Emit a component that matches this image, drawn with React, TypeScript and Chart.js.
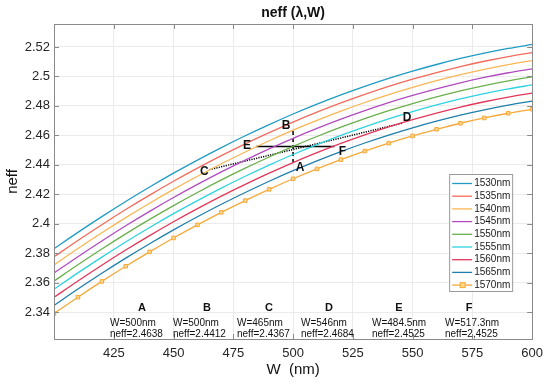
import { useEffect, useRef } from 'react';
import { Chart, registerables } from 'chart.js';

Chart.register(...registerables);

// ---- data ----
const widths = [400, 410, 420, 430, 440, 450, 460, 470, 480, 490, 500, 510, 520, 530, 540, 550, 560, 570, 580, 590, 600];
const wavelengthLabels = ['1530nm', '1535nm', '1540nm', '1545nm', '1550nm', '1555nm', '1560nm', '1565nm', '1570nm'];

const neff1530 = [2.3830, 2.3941, 2.4048, 2.4151, 2.4249, 2.4343, 2.4432, 2.4517, 2.4597, 2.4673, 2.4745, 2.4812, 2.4875, 2.4933, 2.4987, 2.5036, 2.5081, 2.5122, 2.5158, 2.5190, 2.5217];
const neff1535 = [2.3775, 2.3886, 2.3993, 2.4096, 2.4194, 2.4288, 2.4377, 2.4462, 2.4542, 2.4618, 2.4690, 2.4757, 2.4820, 2.4878, 2.4932, 2.4981, 2.5026, 2.5067, 2.5103, 2.5135, 2.5162];
const neff1540 = [2.3720, 2.3831, 2.3938, 2.4041, 2.4139, 2.4233, 2.4322, 2.4407, 2.4487, 2.4563, 2.4635, 2.4702, 2.4765, 2.4823, 2.4877, 2.4926, 2.4971, 2.5012, 2.5048, 2.5080, 2.5107];
const neff1545 = [2.3665, 2.3776, 2.3883, 2.3986, 2.4084, 2.4178, 2.4267, 2.4352, 2.4432, 2.4508, 2.4580, 2.4647, 2.4710, 2.4768, 2.4822, 2.4871, 2.4916, 2.4957, 2.4993, 2.5025, 2.5052];
const neff1550 = [2.3610, 2.3721, 2.3828, 2.3931, 2.4029, 2.4123, 2.4212, 2.4297, 2.4377, 2.4453, 2.4525, 2.4592, 2.4655, 2.4713, 2.4767, 2.4816, 2.4861, 2.4902, 2.4938, 2.4970, 2.4997];
const neff1555 = [2.3555, 2.3666, 2.3773, 2.3876, 2.3974, 2.4068, 2.4157, 2.4242, 2.4322, 2.4398, 2.4470, 2.4537, 2.4600, 2.4658, 2.4712, 2.4761, 2.4806, 2.4847, 2.4883, 2.4915, 2.4942];
const neff1560 = [2.3500, 2.3611, 2.3718, 2.3821, 2.3919, 2.4013, 2.4102, 2.4187, 2.4267, 2.4343, 2.4415, 2.4482, 2.4545, 2.4603, 2.4657, 2.4706, 2.4751, 2.4792, 2.4828, 2.4860, 2.4887];
const neff1565 = [2.3445, 2.3556, 2.3663, 2.3766, 2.3864, 2.3958, 2.4047, 2.4132, 2.4212, 2.4288, 2.4360, 2.4427, 2.4490, 2.4548, 2.4602, 2.4651, 2.4696, 2.4737, 2.4773, 2.4805, 2.4832];
const neff1570 = [2.3390, 2.3501, 2.3608, 2.3711, 2.3809, 2.3903, 2.3992, 2.4077, 2.4157, 2.4233, 2.4305, 2.4372, 2.4435, 2.4493, 2.4547, 2.4596, 2.4641, 2.4682, 2.4718, 2.4750, 2.4777];

const xTicks = [425, 450, 475, 500, 525, 550, 575, 600];
const yTicks = [2.34, 2.36, 2.38, 2.4, 2.42, 2.44, 2.46, 2.48, 2.5, 2.52];

// annotation points
const pointNames = ['A', 'B', 'C', 'D', 'E', 'F'];
const pointW = [500, 500, 465, 546, 484.5, 517.3];
const pointNeff = [2.4638, 2.4412, 2.4367, 2.4684, 2.4525, 2.4525];
const noteW = ['W=500nm', 'W=500nm', 'W=465nm', 'W=546nm', 'W=484.5nm', 'W=517.3nm'];
const noteNeff = ['neff=2.4638', 'neff=2.4412', 'neff=2.4367', 'neff=2.4684', 'neff=2.4525', 'neff=2,4525'];

// ---- styles / layout ----
const seriesColors = ['#1f9bc4', '#f26b5b', '#f8b654', '#b24bbf', '#6ab04c', '#2fd2e0', '#e3385c', '#1f7fad', '#f5a93a'];
const FONT = "'Liberation Sans', Arial, Helvetica, sans-serif";
// where the in-plot labels of the annotation points sit (pixel offsets from the point)
const labelAnchor: Record<string, [number, number, number, number]> = {
  // [pointIndex for anchor value, dx, dy]
  A: [1, 0, 7, 5],
  B: [0, 0, -7, -4],
  C: [2, 0, -5, 2],
  D: [3, 0, 4, -5],
  E: [4, 0, -9, -1],
  F: [5, 0, 8, 5],
};
// bottom notes: x of the letter and of the text lines, offset from chart-area left
const noteLetterX = [88, 153, 215, 275, 345, 415];
const noteLineX = [56, 119, 183, 247, 318, 391];

const allSeries = [neff1530, neff1535, neff1540, neff1545, neff1550, neff1555, neff1560, neff1565, neff1570];

const customPlugin = {
  id: 'matlabLook',
  beforeDraw(chart: any) {
    const { ctx, width, height } = chart;
    ctx.save();
    ctx.fillStyle = '#ffffff';
    ctx.fillRect(0, 0, width, height);
    ctx.restore();
  },
  afterDraw(chart: any) {
    const { ctx, chartArea } = chart;
    const xs = chart.scales.x;
    const ys = chart.scales.y;
    const { left, right, top, bottom } = chartArea;
    ctx.save();

    // axes box and inside ticks
    ctx.strokeStyle = '#8a8a8a';
    ctx.lineWidth = 1;
    ctx.strokeRect(Math.round(left) + 0.5, Math.round(top) + 0.5, Math.round(right - left), Math.round(bottom - top));
    ctx.beginPath();
    xTicks.forEach((v) => {
      const px = Math.round(xs.getPixelForValue(v)) + 0.5;
      ctx.moveTo(px, bottom); ctx.lineTo(px, bottom - 5);
      ctx.moveTo(px, top); ctx.lineTo(px, top + 5);
    });
    yTicks.forEach((v) => {
      const py = Math.round(ys.getPixelForValue(v)) + 0.5;
      ctx.moveTo(left, py); ctx.lineTo(left + 5, py);
      ctx.moveTo(right, py); ctx.lineTo(right - 5, py);
    });
    ctx.stroke();

    // point labels A-F
    ctx.fillStyle = '#111111';
    ctx.font = `bold 12px ${FONT}`;
    ctx.textAlign = 'center';
    ctx.textBaseline = 'middle';
    pointNames.forEach((name) => {
      const [idx, , dx, dy] = labelAnchor[name];
      const px = xs.getPixelForValue(pointW[idx]) + dx;
      const py = ys.getPixelForValue(pointNeff[idx]) + dy;
      ctx.fillText(name, px, py);
    });

    // bottom notes
    pointNames.forEach((name, i) => {
      ctx.font = `bold 11px ${FONT}`;
      ctx.textAlign = 'center';
      ctx.fillText(name, left + noteLetterX[i], bottom - 31);
      ctx.font = `10px ${FONT}`;
      ctx.textAlign = 'left';
      ctx.fillText(noteW[i], left + noteLineX[i], bottom - 16);
      ctx.fillText(noteNeff[i], left + noteLineX[i], bottom - 5);
    });

    // legend box
    const lx = right - 83;
    const ly = top + 150;
    const lw = 63;
    const lh = 117;
    ctx.fillStyle = '#ffffff';
    ctx.fillRect(lx, ly, lw, lh);
    ctx.strokeStyle = '#9a9a9a';
    ctx.strokeRect(lx + 0.5, ly + 0.5, lw, lh);
    ctx.font = `10px ${FONT}`;
    ctx.textAlign = 'left';
    ctx.textBaseline = 'middle';
    wavelengthLabels.forEach((lab, i) => {
      const yy = ly + 9.5 + i * 12.7;
      ctx.strokeStyle = seriesColors[i];
      ctx.lineWidth = 1.3;
      ctx.beginPath();
      ctx.moveTo(lx + 3, yy);
      ctx.lineTo(lx + 23, yy);
      ctx.stroke();
      if (i === 8) {
        ctx.fillStyle = '#fbd58a';
        ctx.fillRect(lx + 11, yy - 2.5, 5, 5);
        ctx.lineWidth = 1;
        ctx.strokeRect(lx + 11, yy - 2.5, 5, 5);
      }
      ctx.fillStyle = '#1a1a1a';
      ctx.fillText(lab, lx + 25, yy);
    });

    // title and axis titles
    ctx.fillStyle = '#111111';
    ctx.textAlign = 'center';
    ctx.font = `bold 14px ${FONT}`;
    ctx.fillText('neff (\u03bb,W)', (left + right) / 2, 13);
    ctx.font = `15px ${FONT}`;
    ctx.fillText('W  (nm)', (left + right) / 2, 370);
    ctx.save();
    ctx.translate(13, (top + bottom) / 2);
    ctx.rotate(-Math.PI / 2);
    ctx.fillText('neff', 0, 0);
    ctx.restore();

    ctx.restore();
  },
};

export default function App() {
  const ref = useRef<HTMLCanvasElement>(null);
  useEffect(() => {
    const canvas = ref.current;
    if (!canvas) return;
    const seriesDatasets = allSeries.map((vals, i) => ({
      label: wavelengthLabels[i],
      data: widths.map((w, j) => ({ x: w, y: vals[j] })),
      borderColor: seriesColors[i],
      backgroundColor: seriesColors[i],
      borderWidth: 1.3,
      pointRadius: i === 8 ? 2.5 : 0,
      pointStyle: 'rect',
      pointBackgroundColor: '#fbd58a',
      pointBorderColor: seriesColors[i],
      pointBorderWidth: 1,
      cubicInterpolationMode: 'monotone' as const,
      clip: 0,
    }));
    const annot = (a: number, b: number, dash: number[]) => ({
      label: '',
      data: [
        { x: pointW[a], y: pointNeff[a] },
        { x: pointW[b], y: pointNeff[b] },
      ],
      borderColor: '#000000',
      borderWidth: 1.5,
      borderDash: dash,
      pointRadius: 0,
      clip: 0,
    });
    const chart = new Chart(canvas, {
      type: 'line',
      data: {
        datasets: [
          ...seriesDatasets,
          annot(1, 0, [4, 3]),
          annot(4, 5, []),
          annot(2, 3, [1.2, 1.2]),
        ] as any,
      },
      options: {
        responsive: false,
        animation: false,
        devicePixelRatio: 1,
        layout: { padding: { left: 0, top: 24, right: 15, bottom: 0 } },
        plugins: { legend: { display: false }, title: { display: false }, tooltip: { enabled: false } },
        scales: {
          x: {
            type: 'linear',
            min: 400,
            max: 600,
            afterBuildTicks: (s: any) => { s.ticks = xTicks.map((v) => ({ value: v })); },
            afterFit: (s: any) => { s.height = 46; },
            ticks: { font: { size: 13, family: FONT }, color: '#262626', padding: 7, maxRotation: 0, autoSkip: false },
            grid: { color: '#ebebeb', drawTicks: false },
            border: { display: false },
          },
          y: {
            type: 'linear',
            min: 2.3217,
            max: 2.5356,
            afterBuildTicks: (s: any) => { s.ticks = yTicks.map((v) => ({ value: v })); },
            afterFit: (s: any) => { s.width = 54; },
            ticks: {
              font: { size: 13, family: FONT },
              color: '#262626',
              padding: 4,
              autoSkip: false,
              callback: (v: any) => String(Number(Number(v).toFixed(2))),
            },
            grid: { color: '#ebebeb', drawTicks: false },
            border: { display: false },
          },
        },
      } as any,
      plugins: [customPlugin],
    });
    return () => chart.destroy();
  }, []);
  return (
    <div style={{ position: 'fixed', left: 0, top: 0, width: 550, height: 385 }}>
      <canvas ref={ref} width={550} height={385} style={{ display: 'block' }} />
    </div>
  );
}
